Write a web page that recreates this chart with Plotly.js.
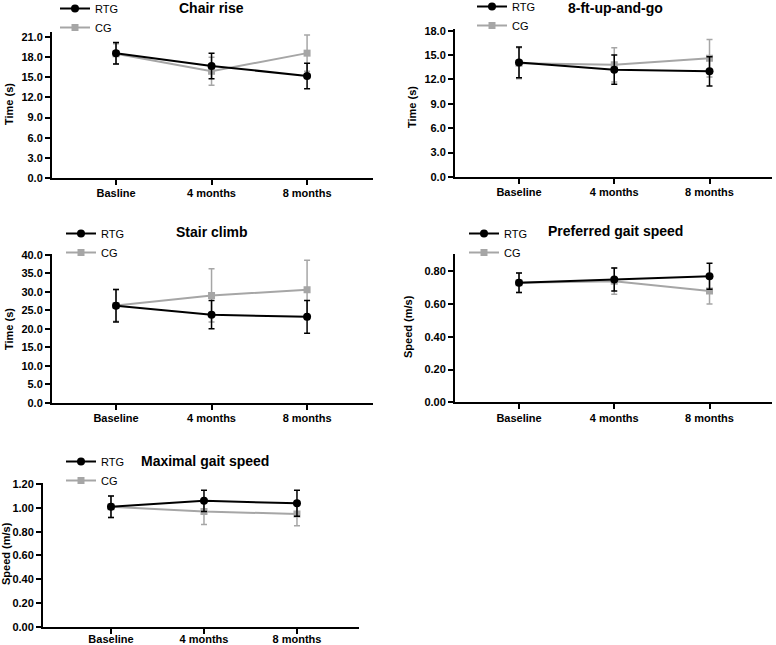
<!DOCTYPE html>
<html>
<head>
<meta charset="utf-8">
<script src="https://cdn.plot.ly/plotly-3.0.1.min.js"></script>
<style>html,body{margin:0;padding:0;background:#fff;}#chart{width:776px;height:645px;}</style>
</head>
<body>
<div id="chart"></div>
<script>
// ---- Data ----
const catsChair = ['Basline', '4 months', '8 months'];
const cats = ['Baseline', '4 months', '8 months'];

const chairRTG = [18.6, 16.7, 15.2];
const chairRTGsd = [1.6, 1.9, 1.9];
const chairCG = [18.5, 15.9, 18.6];
const chairCGsd = [1.5, 2.1, 2.7];

const ftRTG = [14.1, 13.2, 13.0];
const ftRTGsd = [1.9, 1.8, 1.8];
const ftCG = [14.0, 13.8, 14.6];
const ftCGsd = [1.9, 2.1, 2.3];

const stairRTG = [26.2, 23.8, 23.2];
const stairRTGsd = [4.4, 3.8, 4.4];
const stairCG = [26.3, 29.0, 30.5];
const stairCGsd = [4.3, 7.2, 8.0];

const prefRTG = [0.73, 0.75, 0.77];
const prefRTGsd = [0.06, 0.07, 0.08];
const prefCG = [0.73, 0.74, 0.68];
const prefCGsd = [0.06, 0.08, 0.08];

const maxRTG = [1.01, 1.06, 1.04];
const maxRTGsd = [0.09, 0.09, 0.11];
const maxCG = [1.01, 0.97, 0.95];
const maxCGsd = [0.09, 0.11, 0.10];

const titles = ['Chair rise', '8-ft-up-and-go', 'Stair climb', 'Preferred gait speed', 'Maximal gait speed'];
const yTitles = ['Time (s)', 'Time (s)', 'Time (s)', 'Speed (m/s)', 'Speed (m/s)'];

// ---- Layout geometry (pixels) ----
const W = 776, H = 645;
const FONT = 'Liberation Sans, Arial, Helvetica, sans-serif';
const BLACK = '#000000', GRAY = '#a6a6a6';

const panels = [
  {cats: catsChair, rtg: chairRTG, rtgsd: chairRTGsd, cg: chairCG, cgsd: chairCGsd,
   px: [52, 373], py: [32, 178], yr: [0, 21.75], xr: [-0.67, 2.69], dtick: 3, fmt: '.1f',
   title: [212, 8], ytitle: [9, 104], leg: [55, 7], so: -1},
  {cats: cats, rtg: ftRTG, rtgsd: ftRTGsd, cg: ftCG, cgsd: ftCGsd,
   px: [455, 772], py: [29.3, 177], yr: [0, 18.17], xr: [-0.672, 2.656], dtick: 3, fmt: '.1f',
   title: [615, 8], ytitle: [412, 107], leg: [472, 5], so: -1},
  {cats: cats, rtg: stairRTG, rtgsd: stairRTGsd, cg: stairCG, cgsd: stairCGsd,
   px: [52, 373], py: [254, 402.7], yr: [0, 40.19], xr: [-0.67, 2.69], dtick: 5, fmt: '.1f',
   title: [212, 232], ytitle: [9, 329], leg: [61, 232], so: -1},
  {cats: cats, rtg: prefRTG, rtgsd: prefRTGsd, cg: prefCG, cgsd: prefCGsd,
   px: [455, 772], py: [254.3, 402.3], yr: [0, 0.904], xr: [-0.672, 2.656], dtick: 0.2, fmt: '.2f',
   title: [615, 231], ytitle: [408, 327], leg: [464, 232], so: -1},
  {cats: cats, rtg: maxRTG, rtgsd: maxRTGsd, cg: maxCG, cgsd: maxCGsd,
   px: [43, 359], py: [482.7, 626.7], yr: [0, 1.213], xr: [-0.731, 2.667], dtick: 0.2, fmt: '.2f',
   title: [205, 461], ytitle: [6, 554], leg: [61, 460], so: -4}
];

const traces = [];
const layout = {
  width: W, height: H,
  margin: {l: 0, r: 0, t: 0, b: 0, autoexpand: false},
  paper_bgcolor: '#fff', plot_bgcolor: '#fff',
  font: {family: FONT, color: BLACK},
  annotations: [],
  showlegend: true
};

panels.forEach((p, i) => {
  const n = i + 1;
  const xa = n === 1 ? 'x' : 'x' + n;
  const ya = n === 1 ? 'y' : 'y' + n;
  const lg = n === 1 ? 'legend' : 'legend' + n;

  traces.push({
    type: 'scatter', mode: 'lines+markers', name: 'CG',
    x: p.cats, y: p.cg, xaxis: xa, yaxis: ya, legend: lg, legendrank: 2,
    line: {color: GRAY, width: 2},
    marker: {symbol: 'square', size: 7, color: GRAY},
    error_y: {type: 'data', array: p.cgsd, visible: true, color: GRAY, thickness: 1.5, width: 3}
  });
  traces.push({
    type: 'scatter', mode: 'lines+markers', name: 'RTG',
    x: p.cats, y: p.rtg, xaxis: xa, yaxis: ya, legend: lg, legendrank: 1,
    line: {color: BLACK, width: 2},
    marker: {symbol: 'circle', size: 8, color: BLACK},
    error_y: {type: 'data', array: p.rtgsd, visible: true, color: BLACK, thickness: 1.5, width: 3}
  });

  const axX = 'xaxis' + (n === 1 ? '' : n);
  const axY = 'yaxis' + (n === 1 ? '' : n);
  layout[axX] = {
    type: 'category', domain: [p.px[0] / W, p.px[1] / W], range: p.xr,
    anchor: ya, showgrid: false, zeroline: false,
    showline: true, linecolor: BLACK, linewidth: 2,
    ticks: 'outside', ticklen: 5, tickwidth: 2, tickcolor: BLACK,
    ticklabelstandoff: p.so,
    tickfont: {family: FONT, size: 11, color: BLACK, weight: 'bold'},
    fixedrange: true
  };
  layout[axY] = {
    domain: [1 - p.py[1] / H, 1 - p.py[0] / H], range: p.yr,
    anchor: xa, showgrid: false, zeroline: false,
    showline: true, linecolor: BLACK, linewidth: 2,
    ticks: 'outside', ticklen: 5, tickwidth: 2, tickcolor: BLACK,
    tick0: 0, dtick: p.dtick, tickformat: p.fmt,
    tickfont: {family: FONT, size: 11, color: BLACK, weight: 'bold'},
    fixedrange: true
  };
  layout[lg] = {
    x: p.leg[0] / W, y: 1 - (p.leg[1] - 13) / H, xanchor: 'left', yanchor: 'top',
    xref: 'paper', yref: 'paper',
    bgcolor: 'rgba(0,0,0,0)', borderwidth: 0,
    font: {family: FONT, size: 11, color: BLACK},
    traceorder: 'normal'
  };
  layout.annotations.push({
    text: '<b>' + titles[i] + '</b>', xref: 'paper', yref: 'paper',
    x: p.title[0] / W, y: 1 - p.title[1] / H, xanchor: 'center', yanchor: 'middle',
    showarrow: false, font: {family: FONT, size: 14, color: BLACK}
  });
  layout.annotations.push({
    text: '<b>' + yTitles[i] + '</b>', xref: 'paper', yref: 'paper',
    x: p.ytitle[0] / W, y: 1 - p.ytitle[1] / H, xanchor: 'center', yanchor: 'middle',
    textangle: -90, showarrow: false, font: {family: FONT, size: 11, color: BLACK}
  });
});

Plotly.newPlot('chart', traces, layout, {displayModeBar: false, staticPlot: true});
</script>
</body>
</html>
